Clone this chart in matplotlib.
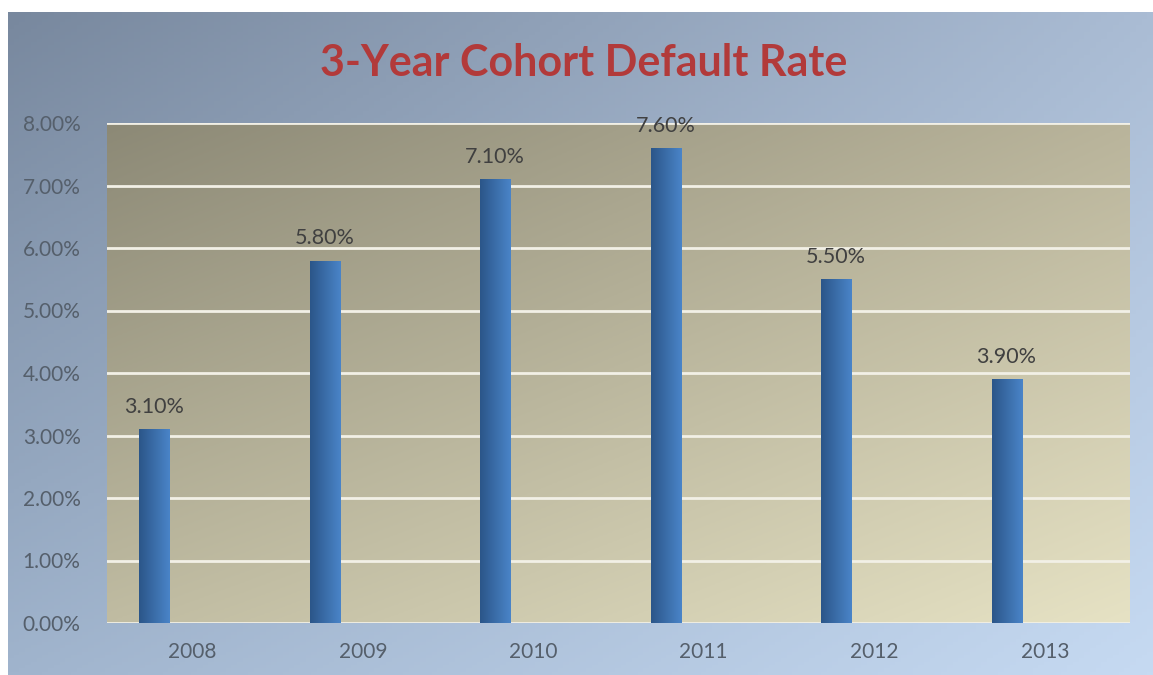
import numpy as np
import matplotlib.pyplot as plt
from matplotlib.colors import LinearSegmentedColormap
from matplotlib.ticker import FuncFormatter

# Data
years = ['2008', '2009', '2010', '2011', '2012', '2013']
rates = [3.10, 5.80, 7.10, 7.60, 5.50, 3.90]
labels = ['3.10%', '5.80%', '7.10%', '7.60%', '5.50%', '3.90%']
title = '3-Year Cohort Default Rate'

plt.rcParams['font.family'] = ['Lato', 'DejaVu Sans']

W, H = 1153, 675
fig = plt.figure(figsize=(W / 100, H / 100), dpi=100, facecolor='white')


def corner_gradient(tl, tr, bl, br, n=200):
    tl, tr, bl, br = [np.array(c, dtype=float) / 255 for c in (tl, tr, bl, br)]
    u = np.linspace(0, 1, n)[None, :, None]
    v = np.linspace(0, 1, n)[:, None, None]
    top = tl * (1 - u) + tr * u
    bot = bl * (1 - u) + br * u
    return top * (1 - v) + bot * v


# Outer chart background (blue-grey gradient)
bg = fig.add_axes([8 / W, 0, (W - 8) / W, (H - 12) / H], zorder=0)
bg.imshow(corner_gradient((120, 136, 158), (170, 188, 212),
                          (160, 180, 205), (198, 218, 242)),
          aspect='auto', extent=[0, 1, 0, 1], origin='upper')
bg.set_axis_off()

# Plot area
ax = fig.add_axes([107 / W, 1 - 623 / H, (1130 - 107) / W, (623 - 123) / H], zorder=1)
ax.imshow(corner_gradient((140, 137, 118), (185, 180, 155),
                          (192, 188, 162), (230, 226, 196)),
          aspect='auto', extent=[-0.5, 5.5, 0, 8], origin='upper', zorder=0)

for y in np.arange(0, 9, 1):
    ax.axhline(y, color='#f2f0e6', lw=2, zorder=1)

bar_cmap = LinearSegmentedColormap.from_list('bar', ['#2b5689', '#4a84c8'])
grad = np.linspace(0, 1, 64)[None, :]
x = np.arange(len(years))
offset = -0.224
width = 0.176
bars = ax.bar(x + offset, rates, width=width, color='none', zorder=2)
for b, lab in zip(bars, labels):
    x0, h = b.get_x(), b.get_height()
    im = ax.imshow(grad, cmap=bar_cmap, aspect='auto',
                   extent=[x0, x0 + width, 0, h], zorder=2)
    im.set_clip_path(b)
    ax.text(x0 + width / 2, h + 0.2, lab, ha='center', va='bottom',
            fontsize=15.5, color='#404040', zorder=3)

ax.set_xlim(-0.5, 5.5)
ax.set_ylim(0, 8)
ax.set_yticks(np.arange(0, 9, 1))
ax.set_xticks(x)
ax.set_xticklabels(years)
ax.yaxis.set_major_formatter(FuncFormatter(lambda v, p: f'{v:.2f}%'))
ax.tick_params(axis='both', length=0, labelsize=15, labelcolor='#555f6b')
ax.tick_params(axis='x', pad=14)
ax.tick_params(axis='y', pad=19)
for s in ax.spines.values():
    s.set_visible(False)

fig.text(584 / W, 1 - 63 / H, title, ha='center', va='center',
         fontsize=31, fontweight='bold', color='#b23a3a')

fig.savefig('out.png', dpi=100)
